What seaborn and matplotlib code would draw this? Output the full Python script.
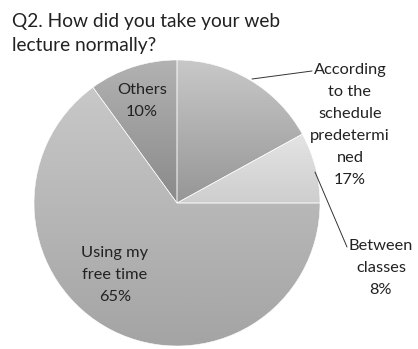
import numpy as np
import matplotlib
matplotlib.use("Agg")
import matplotlib.pyplot as plt
import seaborn as sns
from matplotlib.colors import LinearSegmentedColormap

# ---- data ----
categories = ["According\nto the\nschedule\npredetermi\nned", "Between\nclasses",
              "Using my\nfree time", "Others"]
values = [17, 8, 65, 10]
title = "Q2. How did you take your web\nlecture normally?"

# ---- style ----
top_colors = ["#c8c8c8", "#e4e4e4", "#c8c8c8", "#b2b2b2"]
bottom_colors = ["#969696", "#cecece", "#a4a4a4", "#8a8a8a"]

sns.set_theme(style="white")
plt.rcParams["font.family"] = ["Lato", "DejaVu Sans"]

W, H, DPI = 418, 349, 100
fig = plt.figure(figsize=(W / DPI, H / DPI), dpi=DPI)
ax = fig.add_axes([0, 0, 1, 1])

cx, cy, R = 177, 203, 143  # pixel placement of pie


def px(x, y):
    return ((x - cx) / R, (cy - y) / R)


ax.set_xlim(-cx / R, (W - cx) / R)
ax.set_ylim(-(H - cy) / R, cy / R)
ax.set_aspect("equal")
ax.axis("off")

wedges, _ = ax.pie(values, startangle=90, counterclock=False,
                   colors=bottom_colors, radius=1.0,
                   wedgeprops=dict(edgecolor="white", linewidth=0.4))

# vertical gradient fill per slice
for w, ctop, cbot in zip(wedges, top_colors, bottom_colors):
    bb = w.get_path().get_extents(w.get_transform() - ax.transData)
    cmap = LinearSegmentedColormap.from_list("g", [cbot, ctop])
    grad = np.linspace(0, 1, 256).reshape(-1, 1)
    im = ax.imshow(grad, cmap=cmap, origin="lower", aspect="auto",
                   extent=[bb.x0, bb.x1, bb.y0, bb.y1], zorder=w.get_zorder() + 0.1)
    im.set_clip_path(w)
    w.set_facecolor("none")
    w.set_zorder(w.get_zorder() + 0.2)

ax.set_xlim(-cx / R, (W - cx) / R)
ax.set_ylim(-(H - cy) / R, cy / R)
ax.set_aspect("equal")

labels = [f"{c}\n{v}%" for c, v in zip(categories, values)]
fs = 11.8
ls = 1.72
tc = "#222222"
# According (outside, leader line)
ax.text(*px(350, 125), labels[0], ha="center", va="center", fontsize=fs,
        linespacing=ls, color=tc)
ax.plot(*zip(px(312, 71), px(252, 79)), color="#333333", lw=0.7)
# Between (outside, leader line)
ax.text(*px(381, 268), labels[1], ha="center", va="center", fontsize=fs,
        linespacing=ls, color=tc)
ax.plot(*zip(px(315, 172), px(347, 247)), color="#333333", lw=0.7)
# Free time (inside)
ax.text(*px(115, 275), labels[2], ha="center", va="center", fontsize=fs,
        linespacing=ls, color=tc)
# Others (inside)
ax.text(*px(142, 101), labels[3], ha="center", va="center", fontsize=fs,
        linespacing=ls, color=tc)

fig.text(12 / W, 1 - 13 / H, title, ha="left", va="top", fontsize=13.8,
         linespacing=1.5, color="#222222")

fig.savefig("out.png", dpi=DPI, facecolor="white")
